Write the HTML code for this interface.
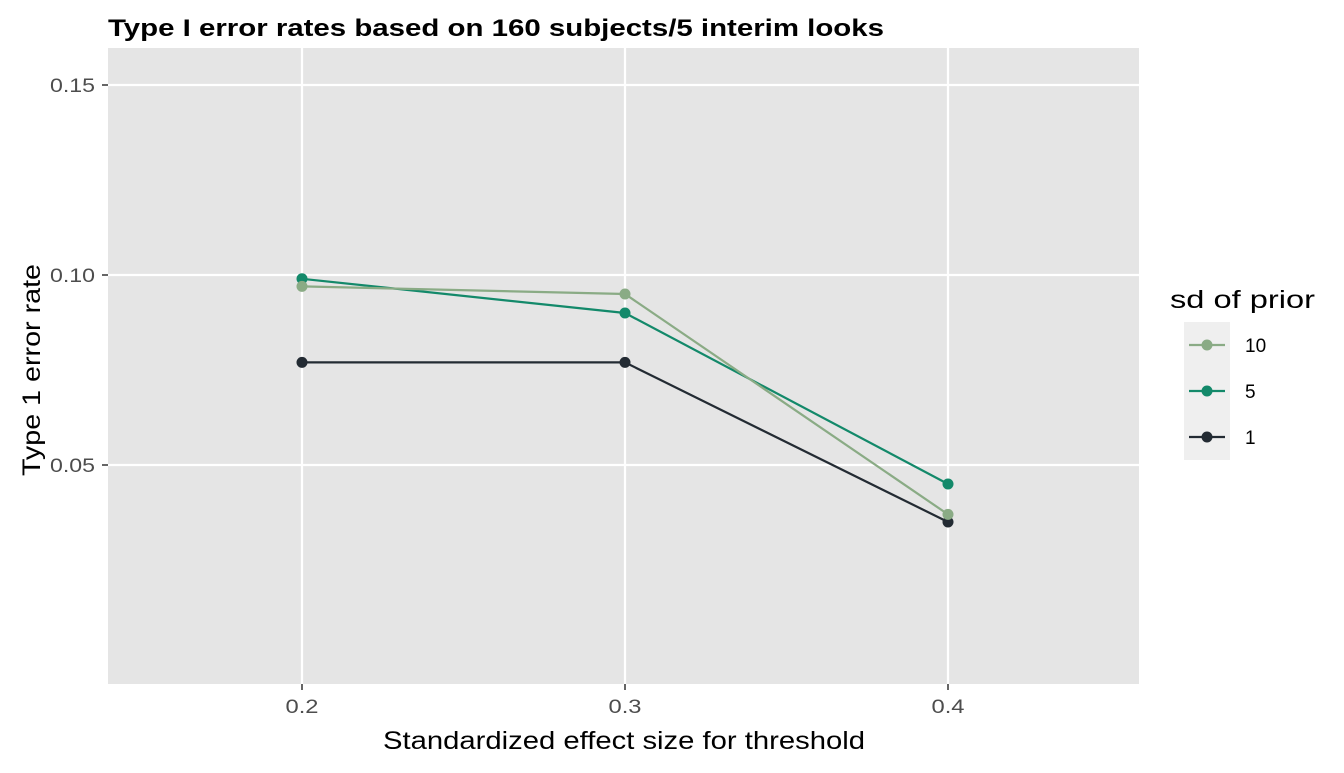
<!DOCTYPE html>
<html><head><meta charset="utf-8"><style>body{margin:0;background:#fff}svg{font-family:"Liberation Sans",Arial,sans-serif}</style></head>
<body>
<svg width="1344" height="768" viewBox="0 0 1344 768">
<text x="108" y="36" font-size="24" font-weight="bold" fill="#000" textLength="776" lengthAdjust="spacingAndGlyphs">Type I error rates based on 160 subjects/5 interim looks</text>
<rect x="108" y="48" width="1031" height="636" fill="#e5e5e5"/>
<g id="grid"></g><g id="series"></g><g id="axes"></g>
<text x="624" y="749" font-size="25" text-anchor="middle" fill="#000" textLength="482" lengthAdjust="spacingAndGlyphs">Standardized effect size for threshold</text>
<text transform="translate(40,370) rotate(-90)" font-size="25" text-anchor="middle" fill="#000" textLength="212" lengthAdjust="spacingAndGlyphs">Type 1 error rate</text>
<text x="1170" y="308" font-size="25" fill="#000" textLength="145" lengthAdjust="spacingAndGlyphs">sd of prior</text>
<rect x="1184" y="322" width="46" height="138" fill="#efefef"/>
<g id="legend"></g>
</svg>
<script>
const xValues=[0.2,0.3,0.4];
const seriesNames=["10","5","1"];
const sd10=[0.097,0.095,0.037];
const sd5=[0.099,0.090,0.045];
const sd1=[0.077,0.077,0.035];
const xTicks=[0.2,0.3,0.4];
const yTicks=[0.05,0.10,0.15];
const colors=["#8aab85","#13896a","#232b33"];
const NS="http://www.w3.org/2000/svg";
const X=v=>302+(v-0.2)*3230;
const Y=v=>275-(v-0.1)*3800;
function mk(t,a,p){const e=document.createElementNS(NS,t);for(const k in a)e.setAttribute(k,a[k]);p.appendChild(e);return e;}
const grid=document.getElementById('grid'),axes=document.getElementById('axes'),ser=document.getElementById('series'),leg=document.getElementById('legend');
yTicks.forEach(v=>{const l=mk('line',{x1:108,x2:1139,y1:Y(v),y2:Y(v),stroke:'#fff','stroke-width':2.2},grid);

const t=mk('text',{x:95,y:Y(v)+7,'font-size':19,'text-anchor':'end',fill:'#4d4d4d',textLength:45,lengthAdjust:'spacingAndGlyphs'},axes);t.textContent=v.toFixed(2);

mk('line',{x1:102,x2:108,y1:Y(v),y2:Y(v),stroke:'#333','stroke-width':1.5},axes);});
xTicks.forEach(v=>{const l=mk('line',{x1:X(v),x2:X(v),y1:48,y2:684,stroke:'#fff','stroke-width':2.2},grid);

const t=mk('text',{x:X(v),y:713,'font-size':19,'text-anchor':'middle',fill:'#4d4d4d',textLength:33,lengthAdjust:'spacingAndGlyphs'},axes);t.textContent=v.toFixed(1);

mk('line',{x1:X(v),x2:X(v),y1:684,y2:690,stroke:'#333','stroke-width':1.5},axes);});
const data=[sd10,sd5,sd1];
[2,1,0].forEach(i=>{const d=data[i];
const p=mk('polyline',{points:d.map((v,j)=>X(xValues[j])+','+Y(v)).join(' '),fill:'none',stroke:colors[i],'stroke-width':2.2},ser);

d.forEach((v,j)=>{const c=mk('circle',{cx:X(xValues[j]),cy:Y(v),r:5.5,fill:colors[i]},ser);
});});
seriesNames.forEach((n,i)=>{const y=345+i*46;
const g=mk('g',{},leg);
mk('line',{x1:1189,x2:1225,y1:y,y2:y,stroke:colors[i],'stroke-width':2.2},g);
mk('circle',{cx:1207,cy:y,r:5.5,fill:colors[i]},g);
const t=mk('text',{x:1245,y:y+7,'font-size':19,fill:'#000'},g);t.textContent=n;});
</script>
</body></html>
